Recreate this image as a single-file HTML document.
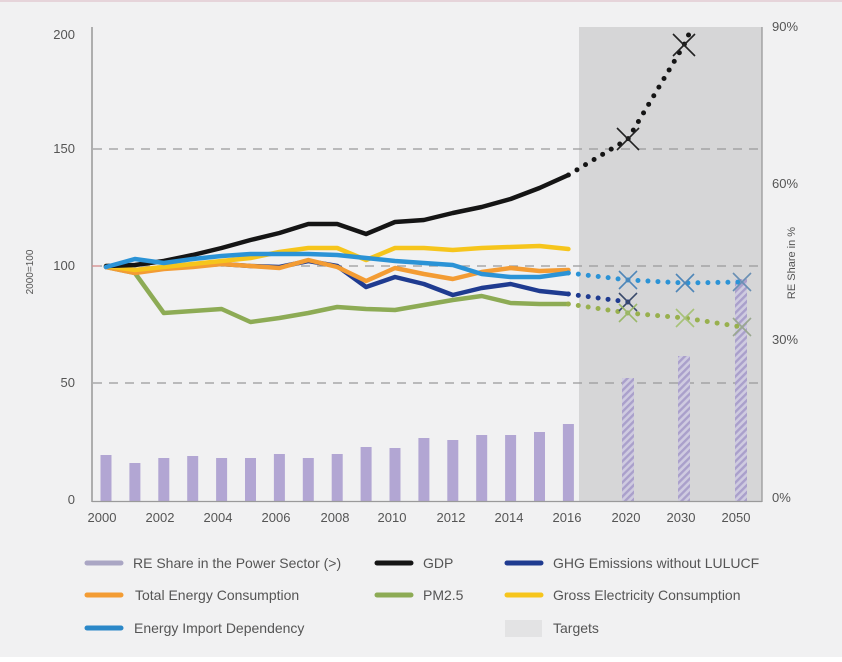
<!DOCTYPE html>
<html><head><meta charset="utf-8">
<style>
html,body{margin:0;padding:0;background:#fff;}
svg{display:block;font-family:"Liberation Sans",sans-serif;}
</style></head>
<body>
<svg width="842" height="662" viewBox="0 0 842 662" xmlns="http://www.w3.org/2000/svg">
<defs>
<pattern id="hatch" patternUnits="userSpaceOnUse" width="5" height="5" patternTransform="rotate(-45)">
<rect width="5" height="5" fill="#cfcbe0"/>
<rect width="5" height="2.4" fill="#aaa0cb"/>
</pattern>
</defs>
<rect x="0" y="0" width="842" height="657" fill="#f1f1f2"/>
<rect x="0" y="0" width="842" height="2" fill="#e6d4da"/>
<rect x="0" y="657" width="842" height="5" fill="#ffffff"/>

<!-- target region -->
<rect x="579" y="27" width="183" height="475" fill="#d6d6d7"/>

<!-- gridlines -->
<g stroke="#9a9a9a" stroke-width="1.2" stroke-dasharray="9 7">
<line x1="93" y1="149" x2="762" y2="149"/>
<line x1="93" y1="266" x2="762" y2="266"/>
<line x1="93" y1="383" x2="762" y2="383"/>
</g>

<!-- bars -->
<g fill="#b2a6d3">
<rect x="100.5" y="455" width="11" height="46"/>
<rect x="129.4" y="463" width="11" height="38"/>
<rect x="158.3" y="458" width="11" height="43"/>
<rect x="187.2" y="456" width="11" height="45"/>
<rect x="216.1" y="458" width="11" height="43"/>
<rect x="245" y="458" width="11" height="43"/>
<rect x="273.9" y="454" width="11" height="47"/>
<rect x="302.8" y="458" width="11" height="43"/>
<rect x="331.7" y="454" width="11" height="47"/>
<rect x="360.6" y="447" width="11" height="54"/>
<rect x="389.5" y="448" width="11" height="53"/>
<rect x="418.4" y="438" width="11" height="63"/>
<rect x="447.3" y="440" width="11" height="61"/>
<rect x="476.2" y="435" width="11" height="66"/>
<rect x="505.1" y="435" width="11" height="66"/>
<rect x="534" y="432" width="11" height="69"/>
<rect x="562.9" y="424" width="11" height="77"/>
</g>
<g fill="url(#hatch)">
<rect x="622" y="378" width="12" height="123"/>
<rect x="678" y="356" width="12" height="145"/>
<rect x="735" y="279" width="12" height="222"/>
</g>

<!-- axes -->
<line x1="92" y1="27" x2="92" y2="502" stroke="#8a8a8a" stroke-width="1.3"/>
<line x1="92" y1="501.5" x2="762" y2="501.5" stroke="#9a9a9a" stroke-width="1.3"/>
<line x1="762" y1="27" x2="762" y2="502" stroke="#9a9a9a" stroke-width="1.3"/>
<line x1="92" y1="266" x2="100" y2="266" stroke="#e08080" stroke-width="1"/>

<!-- series lines -->
<g fill="none" stroke-width="4.5" stroke-linejoin="round" stroke-linecap="round">
<polyline stroke="#8dab55" points="106,267 134.9,273 163.8,313 192.7,311 221.6,309 250.5,322 279.4,318 308.3,313 337.2,307 366.1,309 395,310 423.9,305 452.8,300 481.7,296 510.6,303 539.5,304 568.4,304"/>
<polyline stroke="#1f3b90" points="106,267 134.9,270 163.8,268 192.7,266 221.6,264 250.5,266 279.4,267 308.3,261 337.2,266 366.1,287 395,277 423.9,284 452.8,295 481.7,288 510.6,284 539.5,291 568.4,294"/>
<polyline stroke="#f39c34" points="106,267 134.9,273 163.8,269 192.7,267 221.6,264 250.5,266 279.4,268 308.3,260 337.2,267 366.1,281 395,268 423.9,274 452.8,279 481.7,272 510.6,268 539.5,271 568.4,270"/>
<polyline stroke="#f6c51c" points="106,266 134.9,270 163.8,267 192.7,264 221.6,261 250.5,258 279.4,252 308.3,248 337.2,248 366.1,260 395,248 423.9,248 452.8,250 481.7,248 510.6,247 539.5,246 568.4,249"/>
<polyline stroke="#151515" points="106,266 134.9,265 163.8,261 192.7,255 221.6,248 250.5,240 279.4,233 308.3,224 337.2,224 366.1,234 395,222 423.9,220 452.8,213 481.7,207 510.6,199 539.5,188 568.4,175"/>
<polyline stroke="#2b93d6" points="106,267 134.9,259 163.8,263 192.7,259 221.6,256 250.5,254 279.4,254 308.3,254 337.2,255 366.1,258 395,261 423.9,263 452.8,265 481.7,274 510.6,277 539.5,277 568.4,273"/>
</g>

<!-- projections dotted -->
<g fill="none" stroke-width="5" stroke-linecap="round" stroke-dasharray="0 10">
<polyline stroke="#151515" points="568.4,175 628,139 684,45 689,34"/>
<polyline stroke="#2b93d6" points="568.4,273 628,280 685,283 742,282"/>
<polyline stroke="#1f3b90" points="568.4,294 628,302"/>
<polyline stroke="#98b04e" points="568.4,304 628,313 685,318 742,327"/>
</g>

<!-- X markers -->
<g fill="none" stroke-width="1.6">
<path d="M617,128 L639,150 M639,128 L617,150" stroke="#222"/>
<path d="M673,34 L695,56 M695,34 L673,56" stroke="#222"/>
<path d="M619,271 L637,289 M637,271 L619,289" stroke="#4f86b8"/>
<path d="M676,274 L694,292 M694,274 L676,292" stroke="#4f86b8"/>
<path d="M733,273 L751,291 M751,273 L733,291" stroke="#6a8fb4"/>
<path d="M619,293 L637,311 M637,293 L619,311" stroke="#3a4a6a"/>
<path d="M619,304 L637,322 M637,304 L619,322" stroke="#9bb86a"/>
<path d="M676,309 L694,327 M694,309 L676,327" stroke="#a7c278"/>
<path d="M733,318 L751,336 M751,318 L733,336" stroke="#9aa890"/>
</g>

<!-- left tick labels -->
<g font-size="13" fill="#555" text-anchor="end">
<text x="75" y="39">200</text>
<text x="75" y="153">150</text>
<text x="75" y="270">100</text>
<text x="75" y="387">50</text>
<text x="75" y="504">0</text>
</g>
<!-- right tick labels -->
<g font-size="13" fill="#555">
<text x="772" y="31">90%</text>
<text x="772" y="188">60%</text>
<text x="772" y="344">30%</text>
<text x="772" y="502">0%</text>
</g>
<text font-size="10" fill="#555" text-anchor="middle" transform="translate(33,272) rotate(-90)">2000=100</text>
<text font-size="11" fill="#555" text-anchor="middle" transform="translate(795,263) rotate(-90)">RE Share in %</text>

<!-- x labels -->
<g font-size="13" fill="#555" text-anchor="middle">
<text x="102" y="522">2000</text>
<text x="160" y="522">2002</text>
<text x="218" y="522">2004</text>
<text x="276" y="522">2006</text>
<text x="335" y="522">2008</text>
<text x="392" y="522">2010</text>
<text x="451" y="522">2012</text>
<text x="509" y="522">2014</text>
<text x="567" y="522">2016</text>
<text x="626" y="522">2020</text>
<text x="681" y="522">2030</text>
<text x="736" y="522">2050</text>
</g>

<!-- legend -->
<g stroke-width="5" stroke-linecap="round">
<line x1="87" y1="563" x2="121" y2="563" stroke="#aaa6c4"/>
<line x1="87" y1="595" x2="121" y2="595" stroke="#f39c34"/>
<line x1="87" y1="628" x2="121" y2="628" stroke="#2b88c8"/>
<line x1="377" y1="563" x2="411" y2="563" stroke="#151515"/>
<line x1="377" y1="595" x2="411" y2="595" stroke="#8dab55"/>
<line x1="507" y1="563" x2="541" y2="563" stroke="#1f3b90"/>
<line x1="507" y1="595" x2="541" y2="595" stroke="#f6c51c"/>
</g>
<rect x="505" y="620" width="37" height="17" fill="#e3e3e4"/>
<g font-size="14" fill="#555">
<text x="133" y="568">RE Share in the Power Sector (&gt;)</text>
<text x="135" y="600">Total Energy Consumption</text>
<text x="134" y="633">Energy Import Dependency</text>
<text x="423" y="568">GDP</text>
<text x="423" y="600">PM2.5</text>
<text x="553" y="568">GHG Emissions without LULUCF</text>
<text x="553" y="600">Gross Electricity Consumption</text>
<text x="553" y="633">Targets</text>
</g>
</svg>
</body></html>
